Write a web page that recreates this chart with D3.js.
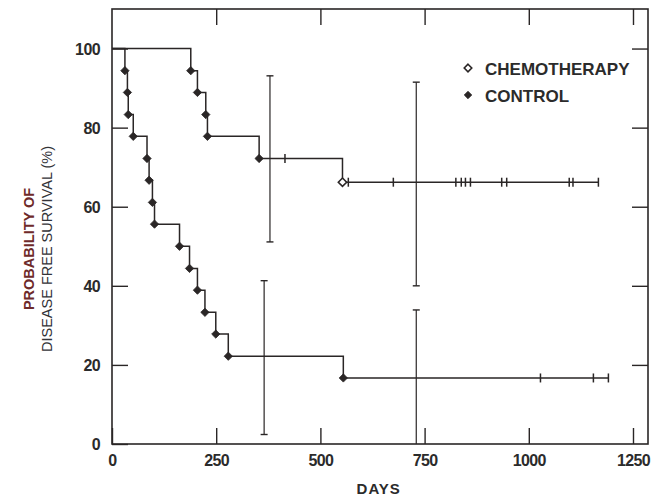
<!DOCTYPE html>
<html>
<head>
<meta charset="utf-8">
<script src="https://cdn.jsdelivr.net/npm/d3@7"></script>
<style>
  html, body { margin: 0; padding: 0; background: #fff; }
  svg { display: block; }
  text { font-family: "Liberation Sans", Arial, Helvetica, sans-serif; }
</style>
</head>
<body>
<svg id="chart" width="654" height="499"></svg>
<script>
// Kaplan-Meier disease free survival, chemotherapy vs control

// Tick labels
const xTicks = [0, 250, 500, 750, 1000, 1250];
const yTicks = [0, 20, 40, 60, 80, 100];

// Chemotherapy: event days and survival (%) after each event
const chemoEventDays = [189, 205, 225, 229, 353, 553];
const chemoEventSurv = [94.4, 88.9, 83.3, 77.8, 72.2, 66.2];
// Chemotherapy: censored observations (days) and last follow-up
const chemoCensorDays = [415, 567, 675, 825, 838, 848, 860, 935, 947, 1097, 1106, 1167];
const chemoEndDay = 1167;

// Control: event days and survival (%) after each event
const controlEventDays = [31, 37, 39, 51, 84, 89, 97, 102, 162, 186, 205, 223, 249, 279, 555];
const controlEventSurv = [94.4, 88.9, 83.3, 77.8, 72.2, 66.7, 61.1, 55.6, 50.0, 44.4, 38.9, 33.3, 27.8, 22.2, 16.7];
const controlCensorDays = [1028, 1155, 1191];
const controlEndDay = 1191;

// Confidence intervals at one and two years
const chemoCIDays = [379, 730];
const chemoCILow = [51.1, 40.0];
const chemoCIHigh = [93.1, 91.5];
const controlCIDays = [365, 730];
const controlCILow = [2.4, 0];
const controlCIHigh = [41.3, 33.9];

const seriesNames = ["CHEMOTHERAPY", "CONTROL"];

const ink = "#2a2626";
const svg = d3.select("#chart");

const x = d3.scaleLinear().domain([0, 1286]).range([112, 648]);
const y = d3.scaleLinear().domain([0, 110]).range([444, 9]);

// Frame
svg.append("rect")
  .attr("x", x(0)).attr("y", y(110))
  .attr("width", x(1286) - x(0)).attr("height", y(0) - y(110))
  .attr("fill", "none").attr("stroke", ink).attr("stroke-width", 1.6);

// Inward ticks on all four sides
const tickLen = 16;
const gBottom = svg.append("g").attr("transform", `translate(0,${y(0)})`)
  .call(d3.axisBottom(x).tickValues(xTicks).tickSize(-tickLen).tickPadding(11).tickFormat(d3.format("d")));
const gTop = svg.append("g").attr("transform", `translate(0,${y(110)})`)
  .call(d3.axisTop(x).tickValues(xTicks.slice(1)).tickSize(-tickLen).tickFormat(""));
const gLeft = svg.append("g").attr("transform", `translate(${x(0)},0)`)
  .call(d3.axisLeft(y).tickValues(yTicks).tickSize(-tickLen).tickPadding(12).tickFormat(d3.format("d")));
const gRight = svg.append("g").attr("transform", `translate(${x(1286)},0)`)
  .call(d3.axisRight(y).tickValues(yTicks.slice(1)).tickSize(-tickLen).tickFormat(""));

[gBottom, gTop, gLeft, gRight].forEach(g => {
  g.select(".domain").remove();
  g.selectAll(".tick line").attr("stroke", ink).attr("stroke-width", 1.4);
  g.selectAll(".tick text")
    .attr("fill", "#2b2b2b")
    .style("font-size", "16px")
    .style("font-weight", "bold")
    .style("letter-spacing", "-0.6px");
});
gLeft.selectAll(".tick text").attr("dy", "0.36em");

// Axis titles
svg.append("text")
  .attr("x", x(640)).attr("y", 494)
  .attr("text-anchor", "middle")
  .attr("fill", "#2b2b2b")
  .style("font-size", "15px").style("font-weight", "bold").style("letter-spacing", "1px")
  .text("DAYS");

const yTitle = svg.append("g").attr("transform", "translate(0,249) rotate(-90)");
yTitle.append("text")
  .attr("x", 0).attr("y", 34)
  .attr("text-anchor", "middle")
  .attr("fill", "#6e2a2a")
  .style("font-size", "14.5px").style("font-weight", "bold")
  .text("PROBABILITY OF");
yTitle.append("text")
  .attr("x", 0).attr("y", 52)
  .attr("text-anchor", "middle")
  .attr("fill", "#333338")
  .style("font-size", "14.5px")
  .text("DISEASE FREE SURVIVAL (%)");

// Step curves
function stepPoints(days, surv, endDay) {
  const pts = [[0, 100]];
  days.forEach((d, i) => pts.push([d, surv[i]]));
  pts.push([endDay, surv[surv.length - 1]]);
  return pts;
}
function survAt(days, surv, t) {
  let s = 100;
  days.forEach((d, i) => { if (d <= t) s = surv[i]; });
  return s;
}

const line = d3.line().x(d => x(d[0])).y(d => y(d[1])).curve(d3.curveStepAfter);
const diamond = d3.symbol().type(d3.symbolDiamond2).size(44);

function drawSeries(days, surv, censors, endDay, ciDays, ciLow, ciHigh, openLast) {
  const g = svg.append("g");
  g.append("path")
    .attr("d", line(stepPoints(days, surv, endDay)))
    .attr("fill", "none").attr("stroke", ink).attr("stroke-width", 1.5);

  // confidence bars
  ciDays.forEach((d, i) => {
    const cx = x(d);
    g.append("line").attr("x1", cx).attr("x2", cx).attr("y1", y(ciLow[i])).attr("y2", y(ciHigh[i]))
      .attr("stroke", ink).attr("stroke-width", 1.2);
    [ciLow[i], ciHigh[i]].forEach(v => {
      if (v <= 0) return;
      g.append("line").attr("x1", cx - 3.5).attr("x2", cx + 3.5).attr("y1", y(v)).attr("y2", y(v))
        .attr("stroke", ink).attr("stroke-width", 1.4);
    });
  });

  // censor ticks
  censors.forEach(c => {
    const cy = y(survAt(days, surv, c));
    g.append("line").attr("x1", x(c)).attr("x2", x(c)).attr("y1", cy - 4.5).attr("y2", cy + 4.5)
      .attr("stroke", ink).attr("stroke-width", 1.5);
  });

  // event markers
  days.forEach((d, i) => {
    const open = openLast && i === days.length - 1;
    g.append("path")
      .attr("d", diamond())
      .attr("transform", `translate(${x(d)},${y(surv[i])})`)
      .attr("fill", open ? "#fff" : ink)
      .attr("stroke", ink).attr("stroke-width", open ? 1.6 : 0.8);
  });
}

drawSeries(controlEventDays, controlEventSurv, controlCensorDays, controlEndDay,
  controlCIDays, controlCILow, controlCIHigh, false);
drawSeries(chemoEventDays, chemoEventSurv, chemoCensorDays, chemoEndDay,
  chemoCIDays, chemoCILow, chemoCIHigh, true);

// Legend
const legend = svg.append("g");
seriesNames.forEach((name, i) => {
  const ly = 68 + i * 27;
  legend.append("path")
    .attr("d", d3.symbol().type(d3.symbolDiamond2).size(36)())
    .attr("transform", `translate(468,${ly})`)
    .attr("fill", i === 0 ? "#fff" : ink)
    .attr("stroke", ink).attr("stroke-width", i === 0 ? 1.6 : 0.8);
  legend.append("text")
    .attr("x", 485).attr("y", ly + 6.5)
    .attr("fill", "#2b2b2b")
    .style("font-size", "17px").style("font-weight", "bold")
    .text(name);
});
</script>
</body>
</html>
